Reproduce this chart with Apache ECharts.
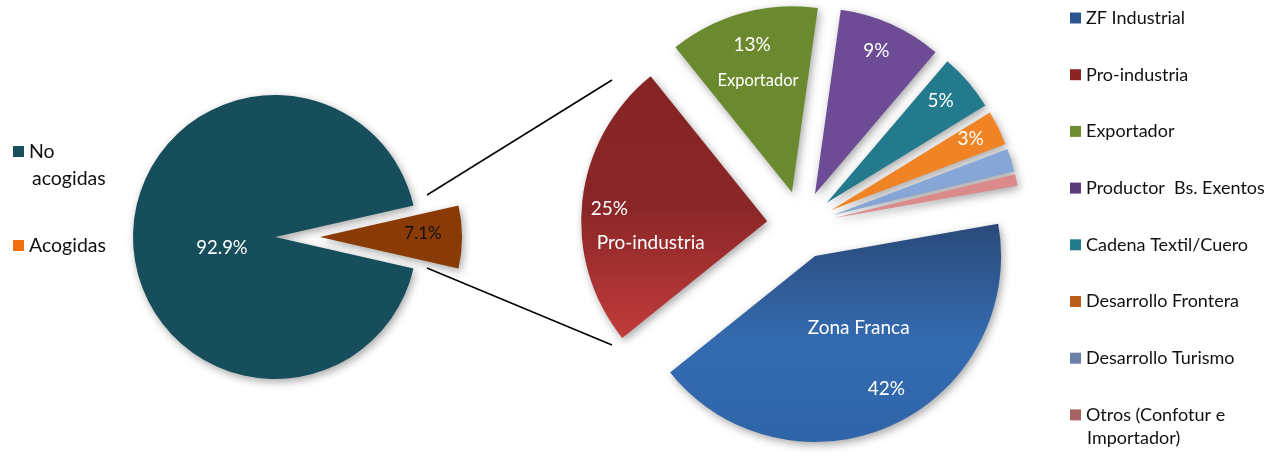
<!DOCTYPE html>
<html><head><meta charset="utf-8">
<script src="https://cdn.jsdelivr.net/npm/echarts@6/dist/echarts.min.js"></script>
<style>html,body{margin:0;padding:0;background:#fff}#c{width:1280px;height:455px}</style>
</head><body><div id="c"></div>
<script>
// ---- data ----
const leftNames = ['No acogidas', 'Acogidas'];
const leftValues = [92.9, 7.1];
const leftLabels = ['92.9%', '7.1%'];

const rightNames = ['ZF Industrial', 'Pro-industria', 'Exportador', 'Productor  Bs. Exentos',
  'Cadena Textil/Cuero', 'Desarrollo Frontera', 'Desarrollo Turismo', 'Otros (Confotur e Importador)'];
const rightValues = [42, 25, 13, 9, 5, 3, 2, 1];
const rightPctLabels = ['42%', '25%', '13%', '9%', '5%', '3%', '', ''];
const rightNameLabels = ['Zona Franca', 'Pro-industria', 'Exportador', '', '', '', '', ''];

// legend text split into first line (legend) and continuation line
const legendFirstLine = {'No acogidas': 'No', 'Otros (Confotur e Importador)': 'Otros (Confotur e'};
const legendSecondLine = {'No acogidas': 'acogidas', 'Otros (Confotur e Importador)': 'Importador)'};

// ---- styles ----
const FONT = 'Lato, "Open Sans", sans-serif';
const grad = stops => new echarts.graphic.LinearGradient(0, 0, 0, 1, stops.map(s => ({offset: s[0], color: s[1]})));
const leftColors = ['#174E5B', '#8A3B05'];
const leftLegendColors = ['#1A4F5E', '#F07010'];
const rightColors = [
  grad([[0, '#2A4A7A'], [0.55, '#346CB1'], [1, '#2F64A8']]),
  grad([[0, '#862425'], [0.5, '#8A2627'], [1, '#C23B3B']]),
  '#6B8A2F', '#6D4C95', '#227A8C', '#F08425', '#87A6D8', '#DA8A8A'];
const rightLegendColors = ['#2B5590', '#8B2525', '#6E8B30', '#5B3C7A', '#237A8A', '#B85E1A', '#6A80A8', '#A86262'];
const shadow = {shadowBlur: 8, shadowColor: 'rgba(0,0,0,0.35)', shadowOffsetX: 2, shadowOffsetY: 3};

const W = '#fff';
const rightLabelCfg = [
  {tpl: (n, p) => `{n|${n}}\n{p|${p}}`, rich: {n: {fontSize: 19, lineHeight: 22}, p: {fontSize: 19, lineHeight: 100, padding: [0, 0, 0, 60]}}, dx: -47, dy: 34, align: 'left'},
  {tpl: (n, p) => `{p|${p}}\n{n|${n}}`, rich: {p: {fontSize: 19, lineHeight: 22}, n: {fontSize: 19, lineHeight: 46, padding: [0, 0, 0, 6]}}, dx: -81, dy: 21, align: 'left'},
  {tpl: (n, p) => `{p|${p}}\n{n|${n}}`, rich: {p: {fontSize: 19, lineHeight: 22, padding: [0, 0, 0, 16]}, n: {fontSize: 16.5, lineHeight: 50}}, dx: -49, dy: -30, align: 'left'},
  {tpl: (n, p) => `{p|${p}}`, rich: {p: {fontSize: 19}}, dx: 22, dy: -56},
  {tpl: (n, p) => `{p|${p}}`, rich: {p: {fontSize: 19}}, dx: 41, dy: -40},
  {tpl: (n, p) => `{p|${p}}`, rich: {p: {fontSize: 19}}, dx: 53, dy: -29},
  null, null
];
const leftLabelCfg = [
  {color: '#fff', fontSize: 18.5, dx: 21, dy: 11},
  {color: '#111', fontSize: 17, dx: 29, dy: -3}
];

const chart = echarts.init(document.getElementById('c'));
chart.setOption({
  animation: false,
  backgroundColor: '#fff',
  textStyle: {fontFamily: FONT},
  legend: [
    {
      orient: 'vertical', left: 8, top: 133, itemWidth: 11, itemHeight: 11, itemGap: 67,
      icon: 'rect', selectedMode: false,
      textStyle: {fontFamily: FONT, fontSize: 19.5, color: '#111', lineHeight: 27},
      formatter: n => legendFirstLine[n] || n,
      data: leftNames.map((n, i) => ({name: n, itemStyle: {color: leftLegendColors[i]}}))
    },
    {
      orient: 'vertical', left: 1065, top: 3, itemWidth: 11, itemHeight: 11, itemGap: 36.7,
      icon: 'rect', selectedMode: false,
      textStyle: {fontFamily: FONT, fontSize: 18, color: '#111', lineHeight: 20},
      formatter: n => legendFirstLine[n] || n,
      data: rightNames.map((n, i) => ({name: n, itemStyle: {color: rightLegendColors[i]}}))
    }
  ],
  graphic: [
    {type: 'line', shape: {x1: 427, y1: 195, x2: 612, y2: 80}, style: {stroke: '#000', lineWidth: 1.5}, z: 10},
    {type: 'line', shape: {x1: 427, y1: 268, x2: 612, y2: 345}, style: {stroke: '#000', lineWidth: 1.5}, z: 10},
    {type: 'text', left: 32, top: 169, style: {text: legendSecondLine['No acogidas'], font: '19.5px ' + FONT, fill: '#111'}},
    {type: 'text', left: 1087, top: 429, style: {text: legendSecondLine['Otros (Confotur e Importador)'], font: '18px ' + FONT, fill: '#111'}}
  ],
  series: [
    {
      type: 'pie', name: 'left', center: [275, 237], radius: 142,
      startAngle: 360 - leftValues[1] / 100 * 180, clockwise: true,
      selectedMode: 'single', selectedOffset: 45, avoidLabelOverlap: false,
      emphasis: {scale: false}, select: {itemStyle: {borderWidth: 0}},
      label: {show: true, position: 'inside', fontFamily: FONT},
      labelLine: {show: false},
      labelLayout: p => ({dx: leftLabelCfg[p.dataIndex].dx, dy: leftLabelCfg[p.dataIndex].dy}),
      data: leftNames.map((n, i) => ({
        name: n, value: leftValues[i], selected: i === 1,
        itemStyle: Object.assign({color: leftColors[i]}, shadow),
        label: {formatter: leftLabels[i], color: leftLabelCfg[i].color, fontSize: leftLabelCfg[i].fontSize}
      }))
    },
    {
      type: 'pie', name: 'right', center: [801, 225], radius: 186,
      startAngle: 10, clockwise: true,
      selectedMode: 'multiple', selectedOffset: 34, avoidLabelOverlap: false,
      emphasis: {scale: false}, select: {itemStyle: {borderWidth: 0}},
      label: {show: true, position: 'inside', color: W, fontFamily: FONT},
      labelLine: {show: false},
      labelLayout: p => {
        const c = rightLabelCfg[p.dataIndex];
        if (!c) return {};
        const o = {dx: c.dx, dy: c.dy};
        if (c.align) o.align = c.align;
        return o;
      },
      data: rightNames.map((n, i) => {
        const c = rightLabelCfg[i];
        return {
          name: n, value: rightValues[i], selected: true,
          itemStyle: Object.assign({color: rightColors[i]}, shadow),
          label: c ? {show: true, formatter: c.tpl(rightNameLabels[i], rightPctLabels[i]), rich: c.rich, color: W}
                   : {show: false}
        };
      })
    }
  ]
});
</script></body></html>
